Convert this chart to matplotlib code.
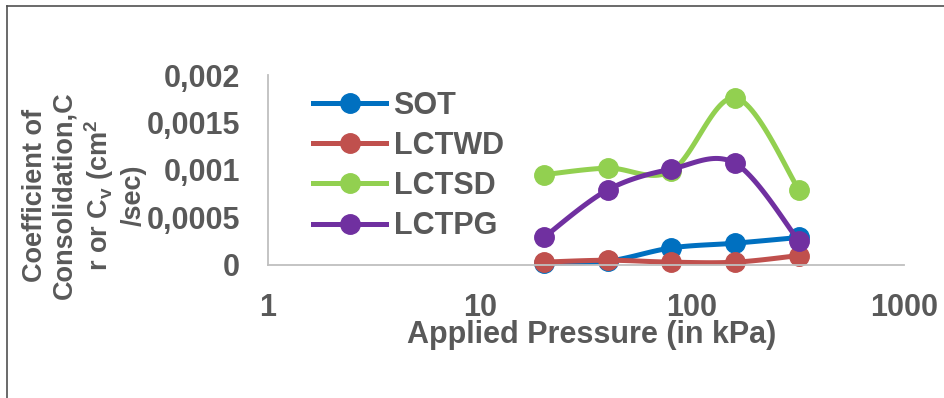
import numpy as np
import matplotlib
matplotlib.use("Agg")
import matplotlib.pyplot as plt
from matplotlib.lines import Line2D

plt.rcParams['font.family'] = ['Liberation Sans', 'DejaVu Sans']
plt.rcParams['font.weight'] = 'bold'
plt.rcParams['mathtext.fontset'] = 'custom'
plt.rcParams['mathtext.rm'] = 'Liberation Sans:bold'
plt.rcParams['mathtext.it'] = 'Liberation Sans:bold'
plt.rcParams['mathtext.bf'] = 'Liberation Sans:bold'
plt.rcParams['mathtext.default'] = 'rm'

# data (Cv in cm2/sec vs applied pressure in kPa)
pressure = [20, 40, 80, 160, 320]
sot = [0.00002, 0.00004, 0.00018, 0.00023, 0.00029]
lctwd = [0.00003, 0.00005, 0.00003, 0.00003, 0.00010]
lctsd = [0.00095, 0.00102, 0.00099, 0.00176, 0.00079]
lctpg = [0.00029, 0.00079, 0.00101, 0.00107, 0.00025]

series_names = ['SOT', 'LCTWD', 'LCTSD', 'LCTPG']
series_colors = ['#0070C0', '#C0504D', '#92D050', '#7030A0']

xticks = [1, 10, 100, 1000]
xtick_labels = ['1', '10', '100', '1000']
yticks = [0, 0.0005, 0.001, 0.0015, 0.002]
ytick_labels = ['0', '0,0005', '0,001', '0,0015', '0,002']

grey = '#595959'


def smooth(xs, ys, n=30):
    # excel-like smoothed line: catmull-rom bezier in screen-ish space
    px = np.log10(xs) * 212.0
    py = np.array(ys) * 95000.0
    pts = np.column_stack([px, py])
    out = []
    for i in range(len(pts) - 1):
        p0 = pts[max(i - 1, 0)]
        p1 = pts[i]
        p2 = pts[i + 1]
        p3 = pts[min(i + 2, len(pts) - 1)]
        c1 = p1 + (p2 - p0) / 6.0
        c2 = p2 - (p3 - p1) / 6.0
        t = np.linspace(0, 1, n)[:, None]
        seg = ((1 - t) ** 3) * p1 + 3 * ((1 - t) ** 2) * t * c1 \
            + 3 * (1 - t) * t ** 2 * c2 + t ** 3 * p2
        out.append(seg if i == 0 else seg[1:])
    out = np.vstack(out)
    return 10 ** (out[:, 0] / 212.0), out[:, 1] / 95000.0


fig = plt.figure(figsize=(9.44, 3.98), dpi=100)
ax = fig.add_axes([268 / 944, 1 - 265 / 398, 636 / 944, 190 / 398])

for name, vals, col in zip(series_names, [sot, lctwd, lctsd, lctpg], series_colors):
    sx, sy = smooth(pressure, vals)
    ax.plot(sx, sy, color=col, lw=3.6, solid_capstyle='round', clip_on=False)
    ax.plot(pressure, vals, 'o', color=col, ms=14, clip_on=False)
    # legend proxy
    ax.plot([], [], color=col, lw=3.6, marker='o', ms=14, label=name)

ax.set_xscale('log')
ax.set_xlim(1, 1000)
ax.set_ylim(0, 0.002)
ax.set_xticks(xticks)
ax.set_xticklabels(xtick_labels)
ax.xaxis.set_minor_locator(matplotlib.ticker.NullLocator())
ax.set_yticks(yticks)
ax.set_yticklabels(ytick_labels)
ax.tick_params(axis='both', length=0, labelsize=22, labelcolor=grey)
ax.tick_params(axis='x', pad=20)
ax.tick_params(axis='y', pad=20)

for s in ['top', 'right']:
    ax.spines[s].set_visible(False)
for s in ['left', 'bottom']:
    ax.spines[s].set_color('#BFBFBF')
    ax.spines[s].set_linewidth(1.3)

ax.set_xlabel('Applied Pressure (in kPa)', fontsize=22, color=grey,
              fontweight='bold')
ax.xaxis.set_label_coords(0.509, -0.29)

fig.text(84 / 944, 1 - 195 / 398,
         'Coefficient of\nConsolidation,C\nr or C$_{v}$ (cm$^{2}$\n/sec)',
         rotation=90, ha='center', va='center', multialignment='center',
         fontsize=19.5, color=grey, fontweight='bold', linespacing=1.2)

leg = ax.legend(loc='upper left', bbox_to_anchor=(0.071, 0.916),
                frameon=False, fontsize=22, handlelength=2.4,
                handletextpad=0.23, labelspacing=0.33, borderpad=0,
                borderaxespad=0)
for t in leg.get_texts():
    t.set_color(grey)

# outer frame (top and left edge)
fig.add_artist(Line2D([7 / 944, 7 / 944], [0, 1 - 6 / 398],
                      transform=fig.transFigure, color='#505050', lw=1.2))
fig.add_artist(Line2D([7 / 944, 1], [1 - 6 / 398, 1 - 6 / 398],
                      transform=fig.transFigure, color='#505050', lw=1.2))

fig.savefig('out.png', dpi=100)
